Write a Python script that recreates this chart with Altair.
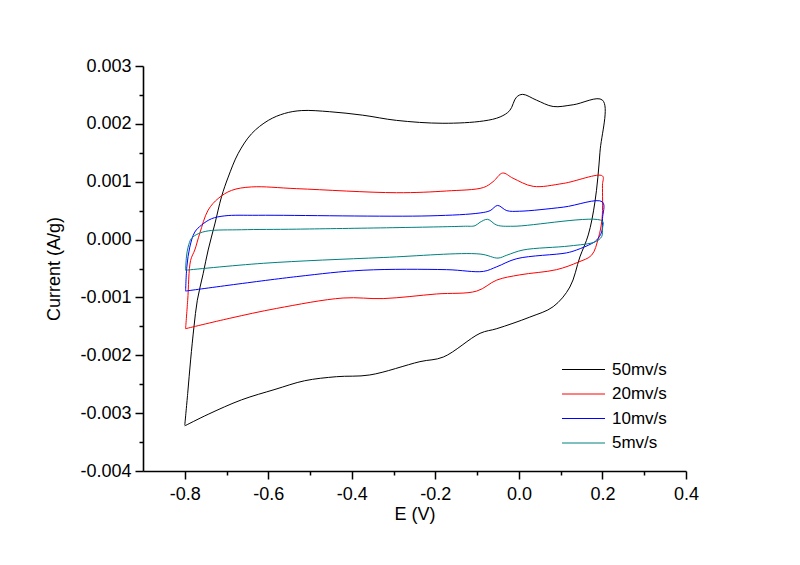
import altair as alt
import pandas as pd

# ---------------- data ----------------
series_names = ["50mv/s", "20mv/s", "10mv/s", "5mv/s"]
series_colors = ["#000000", "#FF0000", "#0000FF", "#008080"]

e_50 = [-0.800, -0.793, -0.786, -0.778, -0.770, -0.756, -0.744, -0.728, -0.712, -0.696,
        -0.672, -0.640, -0.600, -0.561, -0.520, -0.453, -0.374, -0.293, -0.182, -0.085,
        -0.045, -0.022, -0.006, 0.009, 0.042, 0.082, 0.130, 0.200, 0.194, 0.182,
        0.166, 0.146, 0.122, 0.082, 0.026, -0.053, -0.093, -0.181, -0.237, -0.357,
        -0.437, -0.513, -0.584, -0.664, -0.744, -0.800]
i_50 = [-0.00321, -0.00266, -0.00208, -0.00151, -0.00105, -0.00059, -0.00018, 0.00027, 0.00074, 0.00108,
        0.00149, 0.00183, 0.00206, 0.00218, 0.00223, 0.00221, 0.00215, 0.00206, 0.00201, 0.00205,
        0.00212, 0.00223, 0.00246, 0.00251, 0.00241, 0.00230, 0.00233, 0.00241, 0.00151, 0.00065,
        0.00008, -0.00030, -0.00082, -0.00116, -0.00134, -0.00154, -0.00162, -0.00203, -0.00211, -0.00234,
        -0.00237, -0.00244, -0.00259, -0.00277, -0.00302, -0.00322]

e_20 = [-0.798, -0.793, -0.786, -0.776, -0.764, -0.744, -0.720, -0.688, -0.640, -0.532,
        -0.293, -0.173, -0.085, -0.062, -0.039, -0.014, 0.034, 0.106, 0.200, 0.200,
        0.199, 0.190, 0.174, 0.142, 0.090, 0.002, -0.053, -0.101, -0.197, -0.325,
        -0.421, -0.580, -0.692, -0.798]
i_20 = [-0.00154, -0.00105, -0.00036, -0.00018, 0.00011, 0.00051, 0.00071, 0.00085, 0.00091, 0.00088,
        0.00081, 0.00084, 0.00090, 0.00100, 0.00115, 0.00106, 0.00092, 0.00097, 0.00110, 0.00094,
        0.00036, 0.00002, -0.00027, -0.00039, -0.00052, -0.00061, -0.00070, -0.00089, -0.00094, -0.00102,
        -0.00101, -0.00119, -0.00136, -0.00154]

e_10 = [-0.798, -0.795, -0.788, -0.776, -0.760, -0.736, -0.704, -0.624, -0.213, -0.093,
        -0.069, -0.051, -0.029, 0.002, 0.106, 0.200, 0.200, 0.198, 0.186, 0.174,
        0.138, 0.114, -0.005, -0.053, -0.085, -0.173, -0.373, -0.532, -0.798]
i_10 = [-0.00089, -0.00047, -0.00013, 0.00013, 0.00025, 0.00036, 0.00041, 0.00042, 0.00041, 0.00046,
        0.00050, 0.00059, 0.00050, 0.00049, 0.00056, 0.00065, 0.00036, 0.00013, -0.00001, -0.00007,
        -0.00018, -0.00023, -0.00033, -0.00047, -0.00055, -0.00052, -0.00053, -0.00064, -0.00089]

e_5 = [-0.798, -0.796, -0.792, -0.784, -0.768, -0.744, -0.664, -0.532, -0.133, -0.105,
       -0.093, -0.075, -0.053, -0.014, 0.200, 0.200, 0.198, 0.182, 0.122, 0.010,
       -0.029, -0.050, -0.093, -0.325, -0.612, -0.798]
i_5 = [-0.00053, -0.00030, -0.00013, 0.00002, 0.00010, 0.00015, 0.00017, 0.00018, 0.00023, 0.00024,
       0.00030, 0.00035, 0.00025, 0.00023, 0.00032, 0.00019, 0.00005, -0.00004, -0.00011, -0.00018,
       -0.00027, -0.00032, -0.00025, -0.00031, -0.00041, -0.00053]

# axis ticks and labels
x_major = [-0.8, -0.6, -0.4, -0.2, 0.0, 0.2, 0.4]
x_major_labels = ["-0.8", "-0.6", "-0.4", "-0.2", "0.0", "0.2", "0.4"]
x_minor = [-0.7, -0.5, -0.3, -0.1, 0.1, 0.3]

y_major = [-0.004, -0.003, -0.002, -0.001, 0.0, 0.001, 0.002, 0.003]
y_major_labels = ["-0.004", "-0.003", "-0.002", "-0.001", "0.000", "0.001", "0.002", "0.003"]
y_minor = [-0.0035, -0.0025, -0.0015, -0.0005, 0.0005, 0.0015, 0.0025]

# ---------------- table ----------------
rows = []
for name, es, is_ in zip(series_names, [e_50, e_20, e_10, e_5], [i_50, i_20, i_10, i_5]):
    for k, (e, i) in enumerate(zip(es, is_)):
        rows.append({"E": e, "I": i, "series": name, "idx": k})
df = pd.DataFrame(rows)


def label_expr(major, labels):
    return ("indexof(%s, datum.value) >= 0 ? %s[indexof(%s, datum.value)] : ''"
            % (repr(major), repr(labels), repr(major)))


def minor_test(minor):
    return "indexof(%s, datum.value) >= 0" % repr(minor)


FONT = "Liberation Sans"

x_axis = alt.Axis(
    title="E (V)",
    values=sorted(x_major + x_minor),
    labelExpr=label_expr(x_major, x_major_labels),
    tickSize={"condition": {"test": minor_test(x_minor), "value": 4}, "value": 8},
    grid=False,
    labelOverlap=False,
    labelFlush=False,
    labelPadding=6,
    titlePadding=2,
)
y_axis = alt.Axis(
    title="Current (A/g)",
    values=sorted(y_major + y_minor),
    labelExpr=label_expr(y_major, y_major_labels),
    tickSize={"condition": {"test": minor_test(y_minor), "value": 4}, "value": 8},
    grid=False,
    labelOverlap=False,
    labelFlush=False,
    labelPadding=4,
    titlePadding=16,
)

chart = (
    alt.Chart(df)
    .mark_line(strokeWidth=1, interpolate="catmull-rom")
    .encode(
        x=alt.X("E:Q", scale=alt.Scale(domain=[-0.9, 0.4], nice=False, zero=False), axis=x_axis),
        y=alt.Y("I:Q", scale=alt.Scale(domain=[-0.004, 0.003], nice=False, zero=False), axis=y_axis),
        color=alt.Color(
            "series:N",
            scale=alt.Scale(domain=series_names, range=series_colors),
            sort=series_names,
            legend=alt.Legend(
                title=None,
                orient="none",
                legendX=431,
                legendY=294,
                symbolType="M-2.5,0H2.5",
                symbolSize=296,
                symbolStrokeWidth=1,
                labelOffset=19,
                rowPadding=6.5,
                padding=0,
                labelFont=FONT,
                labelFontSize=17,
                labelColor="black",
            ),
        ),
        detail="series:N",
        order="idx:Q",
    )
    .properties(
        width=543,
        height=405,
        autosize=alt.AutoSizeParams(type="none"),
        padding={"left": 135, "top": 58, "right": 90, "bottom": 70},
    )
    .configure_view(stroke=None)
    .configure_axis(
        domainColor="black",
        domainWidth=1.6,
        tickColor="black",
        tickWidth=1.5,
        labelFont=FONT,
        labelFontSize=18,
        labelColor="black",
        titleFont=FONT,
        titleFontSize=18,
        titleFontWeight="normal",
        titleColor="black",
    )
)

chart.save("out.html", embed_options={"renderer": "svg", "actions": False})
